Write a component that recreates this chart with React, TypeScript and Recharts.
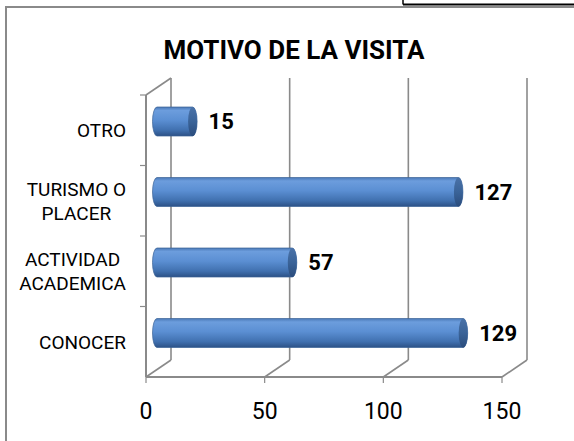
import React from 'react';
import { BarChart, Bar, XAxis, YAxis, CartesianGrid, LabelList } from 'recharts';

const title = 'MOTIVO DE LA VISITA';
const categories = ['OTRO', 'TURISMO O\nPLACER', 'ACTIVIDAD\nACADEMICA', 'CONOCER'];
const visits = [15, 127, 57, 129];
const xTicks = [0, 50, 100, 150];

const data = categories.map((name, i) => ({ name, value: visits[i] }));

const FONT = 'Roboto, "Noto Sans", sans-serif';
const GRID = '#8a8a8a';
// fake 3d depth of the walls and where the bars sit inside it
const DEPTH_X = 25;
const DEPTH_Y = -17;
const BAR_DX = 11;
const BAR_DY = -9;
const CAP_RX = 4.5;

let measureCtx: CanvasRenderingContext2D | null = null;
function textWidth(s: string, font: string) {
  if (!measureCtx) measureCtx = document.createElement('canvas').getContext('2d');
  if (!measureCtx) return s.length * 10.5;
  measureCtx.font = font;
  return measureCtx.measureText(s).width;
}

function CategoryTick(props: any) {
  const { x, y, payload } = props;
  const lines = String(payload.value).split('\n');
  const style = { fontFamily: FONT, fontSize: 19, fill: '#000' };
  if (lines.length === 1) {
    return (
      <text x={x} y={y} dy="0.36em" textAnchor="end" style={style}>
        {lines[0]}
      </text>
    );
  }
  const w = Math.max(...lines.map((l) => textWidth(l, '19px Roboto')));
  const cx = x - w / 2;
  const lh = 24;
  return (
    <text textAnchor="middle" style={style}>
      {lines.map((l, i) => (
        <tspan key={i} x={cx} y={y + (i - (lines.length - 1) / 2) * lh} dy="0.36em">
          {l}
        </tspan>
      ))}
    </text>
  );
}

function DepthGridLine(props: any) {
  const { x1, y1, y2, index } = props;
  const first = index === 0;
  const bx = x1 + DEPTH_X;
  const band = (y2 - y1) / categories.length;
  return (
    <g key={`depth-${index}`}>
      <line x1={x1} y1={y2} x2={bx} y2={y2 + DEPTH_Y} stroke={GRID} strokeWidth={1.6} />
      <line x1={bx} y1={y1 + DEPTH_Y} x2={bx} y2={y2 + DEPTH_Y} stroke={GRID} strokeWidth={1.6} />
      {first && (
        <g>
          <line x1={x1} y1={y1} x2={bx} y2={y1 + DEPTH_Y} stroke={GRID} strokeWidth={1.6} />
          <line x1={x1} y1={y1} x2={x1} y2={y2} stroke={GRID} strokeWidth={2} />
          {categories.map((_, k) => (
            <line key={k} x1={x1 - 6} y1={y1 + k * band} x2={x1} y2={y1 + k * band} stroke={GRID} strokeWidth={1.2} />
          ))}
        </g>
      )}
    </g>
  );
}

function CylinderBar(props: any) {
  const { x, y, width, height } = props;
  if (!width || width <= 0) return null;
  const x0 = x + BAR_DX;
  const y0 = y + BAR_DY;
  const x1 = x0 + width;
  const r = height / 2;
  const body = `M${x0},${y0} L${x1},${y0} A${CAP_RX},${r} 0 0 1 ${x1},${y0 + height} L${x0},${y0 + height} A${CAP_RX},${r} 0 0 1 ${x0},${y0} Z`;
  return (
    <g>
      <path d={body} fill="url(#cylBody)" stroke="#3b6396" strokeWidth={0.7} />
      <ellipse cx={x1} cy={y0 + r} rx={CAP_RX} ry={r} fill="url(#cylCap)" />
    </g>
  );
}

function ValueLabel(props: any) {
  const { x, y, width, height, value } = props;
  return (
    <text
      x={x + width + BAR_DX + 16}
      y={y + height / 2 + BAR_DY}
      dy="0.36em"
      style={{ fontFamily: FONT, fontSize: 22, fontWeight: 700, fill: '#000' }}
    >
      {value}
    </text>
  );
}

export default function App() {
  return (
    <div style={{ position: 'absolute', left: 0, top: 0, width: 574, height: 441, overflow: 'hidden', background: '#fff' }}>
      <BarChart
        width={574}
        height={441}
        data={data}
        layout="vertical"
        margin={{ top: 95, right: 72, bottom: 0, left: 0 }}
      >
        <defs>
          <linearGradient id="cylBody" x1="0" y1="0" x2="0" y2="1">
            <stop offset="0" stopColor="#4a78b6" />
            <stop offset="0.12" stopColor="#6c9ddd" />
            <stop offset="0.45" stopColor="#5b8fd3" />
            <stop offset="0.8" stopColor="#4070af" />
            <stop offset="1" stopColor="#2c5186" />
          </linearGradient>
          <linearGradient id="cylCap" x1="0" y1="0" x2="0" y2="1">
            <stop offset="0" stopColor="#4a72a8" />
            <stop offset="0.5" stopColor="#3a6398" />
            <stop offset="1" stopColor="#2b4c7c" />
          </linearGradient>
        </defs>
        <CartesianGrid horizontal={false} vertical={DepthGridLine} />
        <XAxis
          type="number"
          domain={[0, 150]}
          ticks={xTicks}
          interval={0}
          axisLine={{ stroke: GRID, strokeWidth: 2 }}
          tickLine={{ stroke: GRID, strokeWidth: 1.2 }}
          tickSize={6}
          tickMargin={20}
          height={64}
          tick={{ fontFamily: FONT, fontSize: 23, fill: '#000' }}
        />
        <YAxis
          type="category"
          dataKey="name"
          width={146}
          interval={0}
          axisLine={false}
          tickLine={false}
          tickSize={0}
          tickMargin={20}
          tick={CategoryTick}
        />
        <Bar dataKey="value" barSize={29} shape={CylinderBar} isAnimationActive={false}>
          <LabelList dataKey="value" content={ValueLabel} />
        </Bar>
      </BarChart>
      <svg width={574} height={441} style={{ position: 'absolute', left: 0, top: 0, pointerEvents: 'none' }}>
        <rect x={6} y={7} width={640} height={520} fill="none" stroke={GRID} strokeWidth={2} />
        <line x1={403} y1={0} x2={403} y2={4.5} stroke="#000" strokeWidth={1.5} />
        <line x1={403} y1={4.5} x2={574} y2={4.5} stroke="#000" strokeWidth={2} />
        <text
          x={294}
          y={59}
          textAnchor="middle"
          style={{ fontFamily: FONT, fontSize: 26, fontWeight: 700, fill: '#000' }}
        >
          {title}
        </text>
      </svg>
    </div>
  );
}
